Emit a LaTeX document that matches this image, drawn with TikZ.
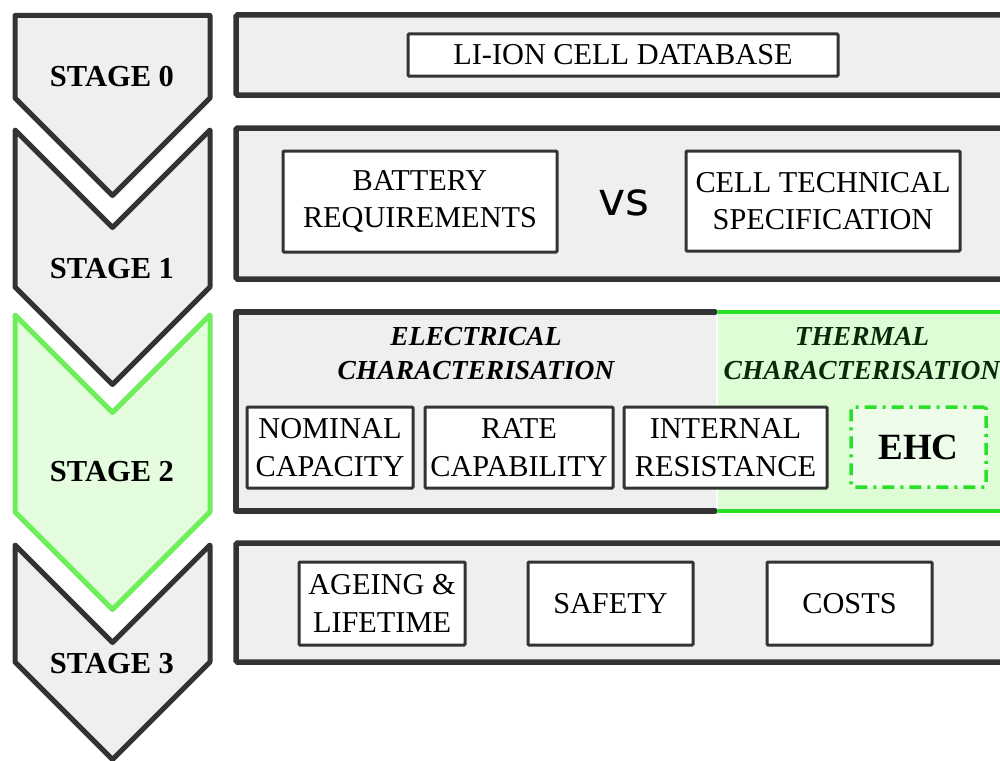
\documentclass[tikz,border=0pt]{standalone}
\usepackage{fontspec}
\setmainfont{Liberation Serif}
\newfontfamily\vsfont{DejaVu Sans}
\definecolor{dark}{RGB}{51,51,51}
\definecolor{panelgray}{RGB}{239,239,239}
\definecolor{chevgreen}{RGB}{110,238,90}
\definecolor{chevgreenfill}{RGB}{228,253,222}
\definecolor{brightgreen}{RGB}{40,224,40}
\definecolor{greenfill}{RGB}{222,253,214}
\definecolor{ehcfill}{RGB}{238,253,234}
\definecolor{thermtext}{RGB}{12,40,12}
\tikzset{
  chev/.style={draw=dark, fill=panelgray, line width=5pt, line join=round},
  chevg/.style={draw=chevgreen, fill=chevgreenfill, line width=5pt, line join=round},
  panel/.style={draw=dark, fill=panelgray, line width=5.5pt, rounded corners=1.5pt},
  box/.style={draw=dark, fill=white, line width=3pt, rounded corners=1pt},
  stagelbl/.style={font=\fontsize{30.5}{34}\selectfont\bfseries},
  txt/.style={font=\fontsize{30.3}{37.5}\selectfont, align=center},
  head/.style={font=\fontsize{27.5}{34}\selectfont\bfseries\itshape, align=center}
}
\begin{document}
\begin{tikzpicture}[x=1pt,y=-1pt]
\clip (0,0) rectangle (1000,760);
\useasboundingbox (0,0) rectangle (1000,760);
% chevrons
\draw[chev] (15,15.5) -- (210,15.5) -- (210,98) -- (112.5,195.5) -- (15,98) -- cycle;
\draw[chev] (15,130) -- (112.5,227.5) -- (210,130) -- (210,287) -- (112.5,384.5) -- (15,287) -- cycle;
\draw[chevg] (15,315) -- (112.5,412.5) -- (210,315) -- (210,512) -- (112.5,609.5) -- (15,512) -- cycle;
\draw[chev] (15,545) -- (112.5,642.5) -- (210,545) -- (210,662) -- (112.5,759.5) -- (15,662) -- cycle;
\node[stagelbl] (s0) at (112,77) {STAGE 0};
\node[stagelbl] (s1) at (112,269) {STAGE 1};
\node[stagelbl] (s2) at (112,472) {STAGE 2};
\node[stagelbl] (s3) at (112,664) {STAGE 3};
% panels
\draw[panel] (236,15) rectangle (1012,95);
\draw[panel] (236,128) rectangle (1012,279);
\fill[panelgray] (236,312) rectangle (716,511);
\fill[greenfill] (718,312) rectangle (1012,511);
\draw[dark, line width=5.5pt, line cap=round, line join=round] (715,312) -- (236,312) -- (236,511) -- (715,511);
\draw[brightgreen, line width=4.5pt, line cap=round] (719,312) -- (1012,312);
\draw[brightgreen, line width=4.5pt, line cap=round] (719,511) -- (1012,511);
\draw[panel] (236,543) rectangle (1012,662);
% stage 0
\node[box, txt, minimum width=430pt, minimum height=42pt, inner sep=0pt] (db) at (623,55) {LI-ION CELL DATABASE};
% stage 1
\node[box, txt, minimum width=274pt, minimum height=101pt, inner sep=0pt] (req) at (420,201.5) {BATTERY\\REQUIREMENTS};
\node[font=\vsfont\fontsize{46}{46}\selectfont] (vs) at (624,203) {vs};
\node[box, txt, minimum width=274pt, minimum height=100pt, inner sep=0pt] (spec) at (823,201) {CELL TECHNICAL\\SPECIFICATION};
% stage 2
\node[head] (elec) at (476,354) {ELECTRICAL\\CHARACTERISATION};
\node[head, text=thermtext] (therm) at (862,354) {THERMAL\\CHARACTERISATION};
\node[box, txt, minimum width=166pt, minimum height=81pt, inner sep=0pt] (nom) at (330,447.5) {NOMINAL\\CAPACITY};
\node[box, txt, minimum width=188pt, minimum height=81pt, inner sep=0pt] (rate) at (519,447.5) {RATE\\CAPABILITY};
\node[box, txt, minimum width=203pt, minimum height=81pt, inner sep=0pt] (ir) at (725.5,447.5) {INTERNAL\\RESISTANCE};
\node[draw=brightgreen, fill=ehcfill, line width=3.5pt, dash pattern=on 12pt off 6pt on 3pt off 6pt, rounded corners=1.5pt,
      minimum width=135pt, minimum height=80pt, inner sep=0pt, font=\fontsize{37}{37}\selectfont\bfseries] (ehc) at (918.5,447) {EHC};
% stage 3
\node[box, txt, minimum width=166pt, minimum height=83pt, inner sep=0pt] (age) at (382,603.5) {AGEING \&\\LIFETIME};
\node[box, txt, minimum width=165pt, minimum height=83pt, inner sep=0pt] (safe) at (610.5,603.5) {SAFETY};
\node[box, txt, minimum width=165pt, minimum height=83pt, inner sep=0pt] (cost) at (849.5,603.5) {COSTS};
\end{tikzpicture}
\end{document}
